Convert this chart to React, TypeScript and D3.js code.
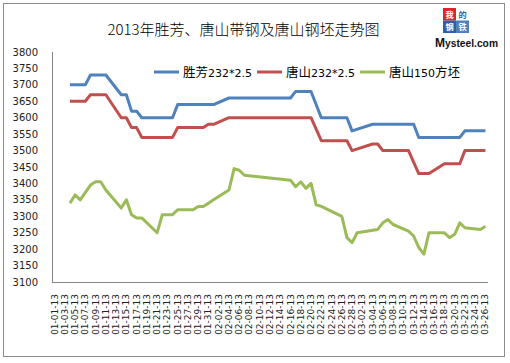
import React from 'react'
import * as d3 from 'd3'

// trading days (values at each vertex)
const dates = [
  '2013-01-04', '2013-01-05', '2013-01-06', '2013-01-07', '2013-01-08', '2013-01-09', '2013-01-10', '2013-01-11',
  '2013-01-14', '2013-01-15', '2013-01-16', '2013-01-17', '2013-01-18', '2013-01-21', '2013-01-22', '2013-01-24',
  '2013-01-25', '2013-01-28', '2013-01-29', '2013-01-30', '2013-01-31', '2013-02-01', '2013-02-04', '2013-02-05',
  '2013-02-06', '2013-02-07', '2013-02-16', '2013-02-17', '2013-02-18', '2013-02-19', '2013-02-20', '2013-02-21',
  '2013-02-22', '2013-02-26', '2013-02-27', '2013-02-28', '2013-03-01', '2013-03-04', '2013-03-05', '2013-03-06',
  '2013-03-07', '2013-03-08', '2013-03-11', '2013-03-12', '2013-03-13', '2013-03-14', '2013-03-15', '2013-03-18',
  '2013-03-19', '2013-03-20', '2013-03-21', '2013-03-22', '2013-03-25', '2013-03-26'
]

const shengfang = [
  3700, 3700, 3700, 3700, 3730, 3730, 3730, 3730,
  3670, 3670, 3620, 3620, 3600, 3600, 3600, 3600,
  3640, 3640, 3640, 3640, 3640, 3640, 3660, 3660,
  3660, 3660, 3660, 3680, 3680, 3680, 3680, null,
  3600, 3600, 3600, 3560, null, 3580, 3580, 3580,
  3580, 3580, 3580, 3580, 3540, 3540, 3540, 3540,
  3540, 3540, 3540, 3560, 3560, 3560
]

const tangshanStrip = [
  3650, 3650, 3650, 3650, 3670, 3670, 3670, 3670,
  3600, 3600, 3570, 3570, 3540, 3540, 3540, 3540,
  3570, 3570, 3570, 3570, 3580, 3580, 3600, 3600,
  3600, 3600, 3600, 3600, 3600, 3600, 3600, null,
  3530, 3530, 3530, 3500, null, 3520, 3520, 3500,
  3500, 3500, 3500, null, 3430, 3430, 3430, 3460,
  3460, 3460, 3460, 3500, 3500, 3500
]

const tangshanBillet = [
  3340, 3365, 3350, null, 3395, 3405, 3405, 3380,
  3325, 3350, 3305, 3295, 3295, 3250, 3305, 3305,
  3320, 3320, 3330, 3330, 3340, 3350, 3380, 3445,
  3440, 3425, 3410, 3390, 3405, 3385, 3400, 3335,
  3330, 3300, 3235, 3220, 3250, null, 3260, 3280,
  3290, 3275, 3255, 3240, 3205, 3185, 3250, 3250,
  3235, 3245, 3280, 3265, 3260, 3270
]

const seriesNames = ['胜芳232*2.5', '唐山232*2.5', '唐山150方坯']
const seriesColors = ['#4F81BD', '#C0504D', '#9BBB59']
const yTicks = [3100, 3150, 3200, 3250, 3300, 3350, 3400, 3450, 3500, 3550, 3600, 3650, 3700, 3750, 3800]

const W = 510
const H = 363
const plot = { left: 52, right: 488, top: 52, bottom: 282 }
const DAY = 24 * 3600 * 1000

const App: React.FC = () => {
  const parse = d3.timeParse('%Y-%m-%d')
  const parsed = dates.map((d) => parse(d) as Date)
  const start = parse('2013-01-01') as Date
  const end = parse('2013-03-26') as Date

  const x = d3
    .scaleTime()
    .domain([new Date(+start - DAY / 2), new Date(+end + DAY / 2)])
    .range([plot.left, plot.right])
  const y = d3.scaleLinear().domain([3100, 3800]).range([plot.bottom, plot.top])

  // a label every second day, counted from Jan 1
  const nDays = d3.timeDay.count(start, end)
  const xTicks = d3.range(0, nDays + 1, 2).map((i) => d3.timeDay.offset(start, i))
  const fmt = d3.timeFormat('%m-%d-%y')

  const line = d3
    .line<[Date, number]>()
    .x((d) => x(d[0]))
    .y((d) => y(d[1]))

  const series = [shengfang, tangshanStrip, tangshanBillet].map((vals) =>
    vals
      .map((v, i) => [parsed[i], v] as [Date, number | null])
      .filter((d) => d[1] != null) as [Date, number][]
  )

  // legend layout
  const legend = [
    { x: 154, parts: [['胜芳', 'cjk'], ['232*2.5', 'num']] },
    { x: 257, parts: [['唐山', 'cjk'], ['232*2.5', 'num']] },
    { x: 360, parts: [['唐山', 'cjk'], ['150', 'num'], ['方坯', 'cjk']] }
  ]

  const logo = [
    { ch: '我', col: 0, row: 0, bg: '#d7262c', fg: '#fff' },
    { ch: '的', col: 1, row: 0, bg: '#fff', fg: '#2f5fa8' },
    { ch: '钢', col: 0, row: 1, bg: '#2f5fa8', fg: '#fff' },
    { ch: '铁', col: 1, row: 1, bg: '#4f7fc0', fg: '#fff' }
  ]

  return (
    <svg
      width={W}
      height={H}
      style={{ position: 'absolute', left: 0, top: 0, background: '#fff' }}
    >
      <rect x={3.5} y={3.5} width={501} height={353} fill="#fff" stroke="#8c8c8c" />

      <text
        x={243.5}
        y={35}
        textAnchor="middle"
        fontFamily="'Noto Sans CJK SC', sans-serif"
        fontSize={15}
        fontWeight={300}
        fill="#000"
      >
        2013年胜芳、唐山带钢及唐山钢坯走势图
      </text>

      {/* logo */}
      <g fontFamily="'Noto Sans CJK SC', sans-serif" fontSize={8.2} fontWeight={700} textAnchor="middle">
        {logo.map((c) => (
          <g key={c.ch}>
            <rect x={443 + c.col * 13} y={8 + c.row * 12.5} width={13} height={12.5} fill={c.bg} />
            <text x={449.5 + c.col * 13} y={17.5 + c.row * 12.5} fill={c.fg}>
              {c.ch}
            </text>
          </g>
        ))}
      </g>
      <text
        x={435}
        y={47}
        fontFamily="'Liberation Sans', Arial, sans-serif"
        fontSize={11.5}
        fontWeight={700}
        fill="#111"
        textLength={63}
        lengthAdjust="spacingAndGlyphs"
      >
        <tspan fontSize={13.5}>M</tspan>ysteel.com
      </text>

      {/* axes */}
      <line x1={plot.left + 0.5} x2={plot.left + 0.5} y1={plot.top} y2={plot.bottom} stroke="#868686" />
      <line x1={plot.left} x2={plot.right} y1={plot.bottom + 0.5} y2={plot.bottom + 0.5} stroke="#868686" />

      {yTicks.map((t) => (
        <text
          key={t}
          x={38}
          y={y(t) + 3.5}
          textAnchor="end"
          fontFamily="'DejaVu Sans', sans-serif"
          fontSize={10}
          fill="#222"
        >
          {t}
        </text>
      ))}

      {xTicks.map((t) => (
        <text
          key={+t}
          transform={`translate(${x(t) + 3},${294}) rotate(-90)`}
          textAnchor="end"
          fontFamily="'DejaVu Sans', sans-serif"
          fontSize={9}
          fill="#222"
        >
          {fmt(t)}
        </text>
      ))}

      {series.map((s, i) => (
        <path
          key={i}
          d={line(s) ?? ''}
          fill="none"
          stroke={seriesColors[i]}
          strokeWidth={3}
          strokeLinejoin="round"
        />
      ))}

      {/* legend */}
      {legend.map((item, i) => (
        <g key={i}>
          <line x1={item.x} x2={item.x + 25} y1={72} y2={72} stroke={seriesColors[i]} strokeWidth={3} />
          <text x={item.x + 29} y={77} fill="#000" aria-label={seriesNames[i]}>
            {item.parts.map(([txt, kind], j) => (
              <tspan
                key={j}
                fontFamily={kind === 'cjk' ? "'Noto Sans CJK SC', sans-serif" : "'DejaVu Sans', sans-serif"}
                fontSize={kind === 'cjk' ? 12.5 : 11}
              >
                {txt}
              </tspan>
            ))}
          </text>
        </g>
      ))}
    </svg>
  )
}

export default App
